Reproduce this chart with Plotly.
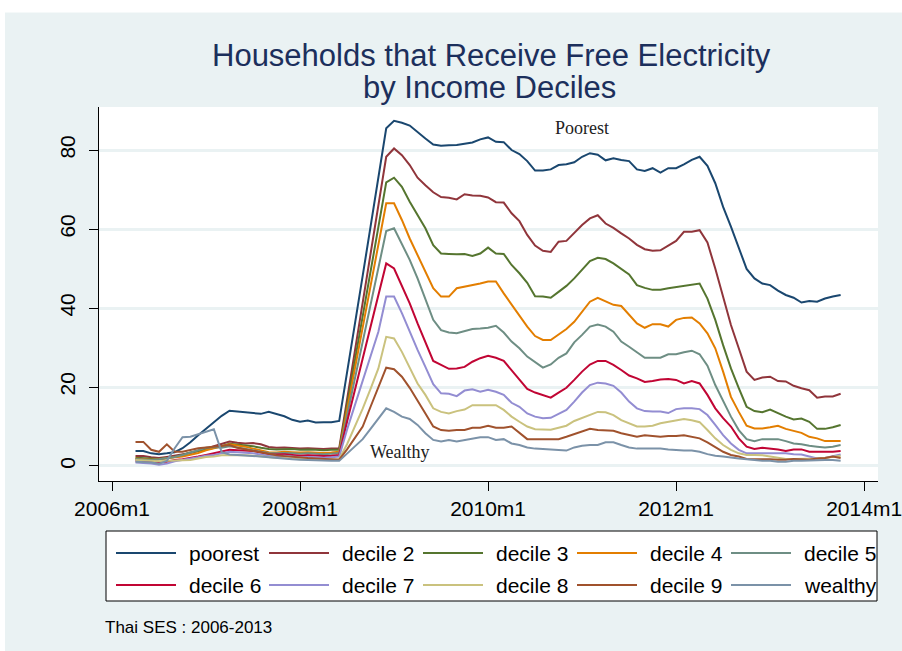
import pandas as pd
import plotly.graph_objects as go

# ---- data: share of households receiving free electricity (%), monthly 2006m4-2013m10
months = pd.period_range("2006-04", "2013-10", freq="M")
month_num = [(p.year - 2006) * 12 + p.month - 1 for p in months]  # months since 2006m1

poorest = [3.8, 3.8, 3.2, 3.0, 3.2, 3.5, 4.5, 6.0, 7.8, 9.5, 11.2, 12.7, 14.0, 13.8, 13.6, 13.5, 13.2, 13.7, 13.2, 12.6, 11.7, 11.2, 11.5, 11.0, 11.1, 11.1, 11.4,
           23.4, 35.8, 48.2, 60.6, 73.0, 85.5, 87.4, 86.9, 86.2, 84.5,
           82.9, 81.4, 81.1, 81.2, 81.3, 81.6, 81.9, 82.7, 83.2, 82.1,
           82.0, 80.0, 79.0, 77.2, 74.8, 74.8, 75.1, 76.2, 76.4, 76.9,
           78.3, 79.2, 78.8, 77.4, 77.9, 77.5, 77.2, 75.1, 74.7, 75.4,
           74.3, 75.4, 75.4, 76.4, 77.5, 78.3, 76.0, 71.6, 65.6, 60.6,
           55.1, 49.9, 47.5, 46.2, 45.8, 44.4, 43.3, 42.6, 41.4, 41.8,
           41.6, 42.4, 42.9, 43.3]
decile2 = [2.5, 2.5, 2.2, 2.0, 2.3, 2.6, 3.0, 3.3, 3.8, 4.3, 5.0, 5.6, 6.2, 5.9, 5.7, 5.8, 5.5, 4.8, 4.6, 4.7, 4.6, 4.4, 4.5, 4.4, 4.3, 4.4, 4.5,
           16.8, 29.1, 41.4, 53.7, 66.0, 78.3, 80.4, 78.7, 76.2, 73.0,
           71.1, 69.3, 68.1, 67.9, 67.5, 68.8, 68.5, 68.4, 68.0, 66.8,
           66.7, 64.0, 62.0, 58.5, 55.8, 54.5, 54.2, 56.8, 57.0, 59.1,
           61.0, 62.7, 63.5, 61.4, 60.3, 58.9, 57.6, 56.0, 54.9, 54.5,
           54.6, 55.8, 57.0, 59.3, 59.3, 59.7, 56.6, 50.0, 42.9, 35.7,
           29.8, 23.9, 21.8, 22.4, 22.6, 21.5, 21.4, 20.3, 19.7, 19.2,
           17.3, 17.6, 17.6, 18.3]
decile3 = [2.1, 2.0, 1.9, 1.8, 2.0, 2.3, 2.8, 3.4, 3.8, 4.2, 4.5, 5.0, 5.6, 5.4, 5.2, 5.0, 4.6, 4.3, 4.2, 4.3, 4.3, 4.1, 4.2, 4.1, 4.0, 4.1, 4.1,
           15.4, 26.7, 38.0, 49.2, 60.5, 71.8, 73.0, 70.7, 66.9, 63.5,
           60.2, 55.9, 53.8, 53.7, 53.6, 53.7, 53.2, 53.8, 55.3, 53.8,
           53.7, 50.9, 48.8, 46.4, 43.0, 42.9, 42.6, 44.1, 45.6, 47.5,
           49.6, 51.9, 52.7, 52.4, 51.3, 49.9, 48.5, 45.8, 45.1, 44.6,
           44.6, 45.0, 45.3, 45.7, 46.0, 46.2, 42.4, 37.0, 30.6, 24.7,
           19.7, 15.0, 13.9, 13.6, 14.3, 13.3, 12.5, 11.8, 12.0, 11.2,
           9.4, 9.4, 9.8, 10.4]
decile4 = [1.9, 1.8, 1.6, 1.7, 2.0, 2.2, 2.4, 2.8, 3.3, 4.0, 4.5, 5.0, 5.5, 5.2, 4.9, 4.4, 3.9, 3.5, 3.4, 3.6, 3.5, 3.4, 3.5, 3.4, 3.3, 3.4, 3.6,
           14.2, 24.7, 35.1, 45.6, 56.0, 66.5, 66.5, 62.3, 57.6, 53.4,
           49.2, 45.0, 42.9, 42.9, 45.0, 45.4, 45.7, 46.2, 46.7, 46.7,
           43.7, 40.8, 38.2, 35.3, 32.9, 31.9, 31.9, 33.3, 34.7, 36.5,
           39.1, 41.6, 42.6, 41.6, 40.8, 40.5, 38.2, 36.1, 35.0, 35.9,
           35.9, 35.3, 37.0, 37.5, 37.6, 36.1, 33.6, 29.8, 23.9, 17.5,
           13.7, 10.2, 9.5, 9.5, 9.8, 10.2, 9.4, 8.9, 8.4, 7.4,
           7.0, 6.3, 6.3, 6.3]
decile5 = [1.8, 1.6, 1.5, 1.7, 2.0, 2.3, 2.8, 3.5, 4.0, 4.6, 4.8, 4.6, 5.0, 4.7, 4.4, 4.0, 3.6, 3.3, 3.2, 3.3, 3.2, 3.1, 3.2, 3.1, 3.0, 3.1, 3.3,
           12.8, 22.2, 31.5, 40.8, 50.2, 59.5, 60.2, 56.4, 52.2, 47.5,
           42.5, 37.0, 34.4, 33.8, 33.6, 34.2, 34.7, 34.8, 35.0, 35.5,
           33.8, 31.5, 29.8, 27.7, 26.4, 24.9, 25.7, 27.4, 28.5, 31.3,
           33.2, 35.3, 35.8, 35.3, 34.0, 31.5, 30.2, 28.8, 27.4, 27.4,
           27.4, 28.3, 28.3, 28.8, 29.2, 28.3, 25.4, 20.5, 16.3, 12.5,
           9.1, 6.8, 6.3, 6.8, 6.8, 6.8, 6.3, 5.7, 5.5, 5.1,
           4.9, 4.7, 4.9, 5.3]
decile6 = [1.3, 1.2, 1.0, 1.0, 1.1, 1.5, 1.7, 2.0, 2.4, 2.8, 3.2, 3.7, 4.1, 4.0, 3.9, 3.8, 3.4, 3.0, 2.9, 3.0, 2.8, 2.6, 2.7, 2.6, 2.5, 2.6, 2.8,
           11.2, 19.2, 27.2, 35.3, 43.3, 51.3, 50.0, 45.8, 41.2, 36.1,
           31.5, 26.6, 25.6, 24.6, 24.7, 25.1, 26.4, 27.3, 27.9, 27.4,
           26.6, 24.3, 21.8, 19.5, 18.6, 18.0, 17.3, 18.6, 19.8, 21.8,
           23.9, 25.7, 26.6, 26.6, 25.6, 24.3, 22.9, 22.2, 21.3, 21.5,
           21.9, 22.0, 21.8, 20.9, 21.5, 20.9, 18.0, 14.6, 12.1, 10.0,
           7.0, 4.9, 4.3, 4.6, 4.4, 4.2, 3.8, 4.2, 4.2, 3.6,
           3.6, 3.6, 3.6, 3.8]
decile7 = [0.9, 0.8, 0.6, 0.3, 0.6, 1.2, 1.5, 1.8, 2.2, 2.6, 2.8, 3.2, 3.6, 3.5, 3.4, 3.2, 2.9, 2.6, 2.5, 2.6, 2.4, 2.2, 2.3, 2.2, 2.1, 2.2, 2.4,
           9.2, 15.4, 21.6, 27.8, 34.0, 42.9, 42.9, 38.7, 34.0, 29.4,
           25.1, 20.7, 18.4, 18.3, 17.7, 19.1, 19.4, 18.8, 19.3, 18.8,
           18.0, 16.0, 15.0, 13.3, 12.5, 12.1, 12.2, 13.3, 14.2, 16.3,
           18.6, 20.5, 21.1, 20.9, 20.3, 18.6, 16.3, 14.6, 13.9, 13.8,
           13.8, 13.4, 14.4, 14.6, 14.6, 14.4, 12.9, 10.4, 7.8, 5.7,
           4.1, 3.2, 3.2, 3.3, 3.3, 3.3, 3.2, 3.0, 2.9, 2.4,
           1.9, 2.0, 2.4, 2.9]
decile8 = [1.5, 1.4, 1.3, 1.2, 1.3, 1.4, 1.4, 1.5, 1.9, 2.3, 2.4, 2.7, 2.8, 2.8, 2.7, 2.6, 2.4, 2.2, 2.1, 2.0, 1.9, 1.7, 1.8, 1.7, 1.6, 1.7, 1.8,
           5.5, 10.0, 14.5, 19.5, 24.7, 32.7, 32.3, 28.9, 24.7, 20.9,
           18.0, 14.6, 13.7, 13.3, 13.9, 14.3, 15.4, 15.4, 15.4, 15.4,
           14.2, 12.5, 11.2, 10.0, 9.3, 9.2, 9.2, 9.7, 10.2, 11.4,
           12.2, 13.1, 13.7, 13.6, 12.9, 11.6, 10.8, 10.0, 10.0, 10.2,
           10.8, 11.2, 11.6, 11.9, 11.6, 11.1, 9.1, 7.0, 5.3, 4.1,
           3.2, 2.8, 2.8, 2.7, 2.4, 2.1, 1.8, 1.8, 1.8, 1.8,
           1.9, 2.0, 2.3, 2.6]
decile9 = [6.1, 6.1, 4.1, 3.6, 5.5, 3.6, 3.6, 4.1, 4.5, 4.7, 4.9, 5.0, 5.3, 4.6, 4.2, 3.8, 3.5, 3.0, 2.7, 2.5, 2.3, 2.1, 2.0, 1.9, 1.8, 1.8, 1.6,
           4.2, 7.0, 10.0, 15.0, 20.0, 24.9, 24.5, 22.6, 19.8, 16.7,
           13.3, 10.0, 9.1, 8.9, 9.1, 9.1, 9.7, 9.7, 10.2, 9.7,
           9.7, 10.0, 8.3, 6.8, 6.8, 6.8, 6.8, 6.8, 7.4, 8.1,
           8.7, 9.4, 9.1, 9.0, 8.9, 8.3, 7.8, 7.4, 7.8, 7.6,
           7.4, 7.6, 7.6, 7.8, 7.4, 7.0, 6.0, 4.9, 3.6, 2.8,
           2.4, 1.8, 1.8, 1.7, 1.7, 1.6, 1.6, 1.8, 1.7, 1.6,
           1.9, 2.0, 2.4, 2.0]
wealthy = [1.1, 1.0, 0.9, 0.6, 1.3, 4.5, 7.3, 7.4, 8.0, 8.7, 9.3, 3.5, 2.9, 2.8, 2.7, 2.6, 2.4, 2.2, 2.0, 1.9, 1.7, 1.6, 1.5, 1.5, 1.4, 1.3, 1.3,
           3.1, 5.1, 6.8, 9.4, 11.9, 14.6, 13.7, 12.5, 11.9, 10.4,
           8.3, 6.6, 6.2, 6.6, 6.2, 6.6, 7.0, 7.3, 7.3, 6.6,
           6.8, 5.7, 5.3, 4.7, 4.4, 4.3, 4.1, 4.0, 3.9, 4.7,
           5.1, 5.3, 5.3, 6.0, 6.0, 5.3, 4.7, 4.4, 4.4, 4.4,
           4.4, 4.2, 4.0, 3.9, 3.9, 3.6, 3.0, 2.6, 2.4, 2.1,
           1.9, 1.7, 1.5, 1.3, 1.3, 1.1, 1.1, 1.3, 1.3, 1.4,
           1.5, 1.5, 1.5, 1.3]

series_names = ["poorest", "decile 2", "decile 3", "decile 4", "decile 5",
                "decile 6", "decile 7", "decile 8", "decile 9", "wealthy"]
series_values = [poorest, decile2, decile3, decile4, decile5,
                 decile6, decile7, decile8, decile9, wealthy]
series_colors = ["#1a476f", "#90353b", "#55752f", "#e37e00", "#6e8e84",
                 "#c10534", "#938dd2", "#cac27e", "#a0522d", "#7b92a8"]

tick_months = [0, 24, 48, 72, 96]
tick_labels = ["2006m1", "2008m1", "2010m1", "2012m1", "2014m1"]
y_ticks = [0, 20, 40, 60, 80]

# ---- page geometry (pixels) for the plot region
W, H = 902, 651
PL, PR, PT, PB = 99, 878, 107, 481


def px_x(px):
    return (px - PL) / (PR - PL)


def px_y(py):
    return (PB - py) / (PB - PT)


BG = "#eaf2f3"
SANS = "Liberation Sans, Arial, sans-serif"
SERIF = "Liberation Serif, Times New Roman, serif"

fig = go.Figure()
for name, vals, col in zip(series_names, series_values, series_colors):
    fig.add_trace(go.Scatter(x=month_num, y=vals, mode="lines", name=name,
                             line=dict(color=col, width=2), showlegend=False))

shapes = [
    # white strip above the graph region and at its left edge
    dict(type="rect", xref="paper", yref="paper", x0=px_x(0), x1=px_x(W),
         y0=px_y(0), y1=px_y(12.5), fillcolor="white", line_width=0, layer="below"),
    dict(type="rect", xref="paper", yref="paper", x0=px_x(0), x1=px_x(5),
         y0=px_y(0), y1=px_y(H), fillcolor="white", line_width=0, layer="below"),
    # legend frame
    dict(type="rect", xref="paper", yref="paper", x0=px_x(106), x1=px_x(877),
         y0=px_y(601), y1=px_y(531), fillcolor="white",
         line=dict(color="black", width=1), layer="below"),
]
annotations = [
    dict(text="Households that Receive Free Electricity", xref="paper", yref="paper",
         x=px_x(491), y=px_y(55), xanchor="center", yanchor="middle", showarrow=False,
         font=dict(family=SANS, size=31, color="#1c2f5c")),
    dict(text="by Income Deciles", xref="paper", yref="paper",
         x=px_x(490), y=px_y(87), xanchor="center", yanchor="middle", showarrow=False,
         font=dict(family=SANS, size=31, color="#1c2f5c")),
    dict(text="Poorest", x=60, y=85.6, xref="x", yref="y", showarrow=False,
         xanchor="center", yanchor="middle", font=dict(family=SERIF, size=18, color="#222")),
    dict(text="Wealthy", x=36.8, y=3.5, xref="x", yref="y", showarrow=False,
         xanchor="center", yanchor="middle", font=dict(family=SERIF, size=18, color="#222")),
    dict(text="Thai SES : 2006-2013", xref="paper", yref="paper", x=px_x(103), y=px_y(627),
         xanchor="left", yanchor="middle", showarrow=False,
         font=dict(family=SANS, size=17, color="black")),
]

# legend: 2 rows x 5 columns
col_x = [116, 269, 423, 577, 731]
row_y = [553, 585]
for i, (name, col) in enumerate(zip(series_names, series_colors)):
    r, c = divmod(i, 5)
    x0 = col_x[c]
    yy = px_y(row_y[r])
    shapes.append(dict(type="line", xref="paper", yref="paper", x0=px_x(x0), x1=px_x(x0 + 60),
                       y0=yy, y1=yy, line=dict(color=col, width=2)))
    annotations.append(dict(text=name, xref="paper", yref="paper", x=px_x(x0 + 71), y=yy,
                            xanchor="left", yanchor="middle", showarrow=False,
                            font=dict(family=SANS, size=21, color="black")))

fig.update_layout(
    width=W, height=H,
    margin=dict(l=PL, r=W - PR, t=PT, b=H - PB, pad=0, autoexpand=False),
    paper_bgcolor=BG, plot_bgcolor="white",
    shapes=shapes, annotations=annotations,
    xaxis=dict(range=[-1.66, 97.77], tickvals=tick_months, ticktext=tick_labels,
               automargin=False,
               showgrid=False, zeroline=False, showline=True, linecolor="black", linewidth=1,
               ticks="outside", ticklen=9, tickcolor="black", tickwidth=1,
               ticklabelstandoff=0, ticklabeloverflow="allow",
               tickfont=dict(family=SANS, size=21, color="black")),
    yaxis=dict(range=[-3.8, 90.9], tickvals=y_ticks, tickangle=-90,
               automargin=False,
               showgrid=True, gridcolor=BG, gridwidth=2.5, zeroline=False,
               showline=True, linecolor="black", linewidth=1,
               ticks="outside", ticklen=9, tickcolor="black", tickwidth=1,
               ticklabelstandoff=6,
               tickfont=dict(family=SANS, size=21, color="black")),
)

fig.write_html("out.html")
